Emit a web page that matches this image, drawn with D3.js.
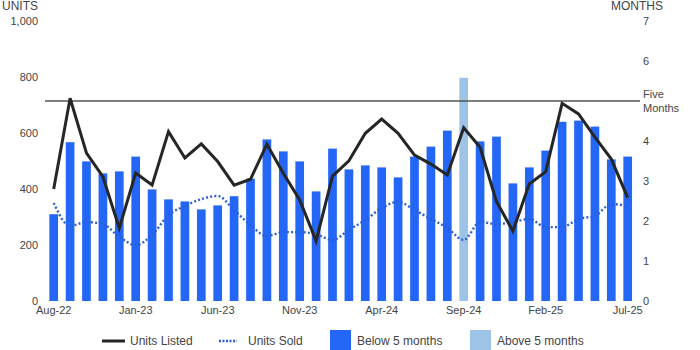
<!DOCTYPE html>
<html>
<head>
<meta charset="utf-8">
<script src="https://cdn.jsdelivr.net/npm/d3@7"></script>
<style>
  html, body { margin: 0; padding: 0; background: #fff; }
  svg { display: block; font-family: "Liberation Sans", Arial, sans-serif; }
</style>
</head>
<body>
<svg id="chart" width="700" height="350"></svg>
<script>
// Monthly housing market data, Aug-22 .. Jul-25
const months = [
  "Aug-22","Sep-22","Oct-22","Nov-22","Dec-22","Jan-23","Feb-23","Mar-23","Apr-23","May-23","Jun-23","Jul-23",
  "Aug-23","Sep-23","Oct-23","Nov-23","Dec-23","Jan-24","Feb-24","Mar-24","Apr-24","May-24","Jun-24","Jul-24",
  "Aug-24","Sep-24","Oct-24","Nov-24","Dec-24","Jan-25","Feb-25","Mar-25","Apr-25","May-25","Jun-25","Jul-25"
];

// Months of supply (right axis)
const monthsSupply = [
  2.17, 3.97, 3.49, 3.19, 3.24, 3.61, 2.79, 2.54, 2.49, 2.29, 2.39, 2.62,
  3.06, 4.04, 3.74, 3.49, 2.74, 3.81, 3.29, 3.39, 3.34, 3.09, 3.61, 3.86,
  4.26, 5.58, 3.99, 4.11, 2.94, 3.34, 3.76, 4.48, 4.51, 4.36, 3.54, 3.61
];

// Units listed (left axis)
const unitsListed = [
  400, 724, 528, 444, 260, 457, 414, 605, 511, 561, 498, 414,
  435, 560, 456, 361, 215, 446, 501, 599, 650, 599, 521, 489,
  450, 619, 549, 355, 250, 418, 462, 706, 668, 585, 507, 369
];

// Units sold (left axis)
const unitsSold = [
  350, 268, 282, 275, 229, 200, 236, 307, 339, 364, 375, 325,
  271, 232, 246, 246, 239, 218, 254, 289, 332, 354, 325, 293,
  261, 218, 282, 275, 282, 293, 264, 264, 293, 304, 346, 339
];

const leftTicks = [0, 200, 400, 600, 800, 1000];
const rightTicks = [0, 1, 2, 3, 4, 6, 7];
const xLabelMonths = ["Aug-22","Jan-23","Jun-23","Nov-23","Apr-24","Sep-24","Feb-25","Jul-25"];
const thresholdMonths = 5;

const colors = {
  below: "#2466f6",
  above: "#9dc3e6",
  listed: "#262626",
  sold: "#2b5fd6",
  text: "#444444",
  refLine: "#555555"
};

const svg = d3.select("#chart");

const x = d3.scaleBand()
  .domain(months)
  .range([45.5, 635.9])
  .paddingInner(0.47)
  .paddingOuter(0.235);

const yLeft = d3.scaleLinear().domain([0, 1000]).range([301, 21]);
const yRight = d3.scaleLinear().domain([0, 7]).range([301, 21]);

const cx = m => x(m) + x.bandwidth() / 2;

// Bars: months of supply, coloured by threshold
svg.append("g")
  .selectAll("rect")
  .data(months.map((m, i) => ({ m, v: monthsSupply[i] })))
  .join("rect")
  .attr("x", d => x(d.m))
  .attr("width", x.bandwidth())
  .attr("y", d => yRight(d.v))
  .attr("height", d => yRight(0) - yRight(d.v))
  .attr("fill", d => d.v > thresholdMonths ? colors.above : colors.below);

// Five-month reference line
svg.append("line")
  .attr("x1", 45).attr("x2", 640)
  .attr("y1", yRight(thresholdMonths)).attr("y2", yRight(thresholdMonths))
  .attr("stroke", colors.refLine)
  .attr("stroke-width", 1.3);

svg.append("text")
  .attr("x", 643).attr("y", yRight(thresholdMonths) - 3)
  .attr("font-size", 11).attr("fill", colors.text)
  .selectAll("tspan")
  .data(["Five", "Months"])
  .join("tspan")
  .attr("x", 643)
  .attr("dy", (d, i) => i === 0 ? 0 : 13.5)
  .text(d => d);

// Units sold: dotted smooth line
svg.append("path")
  .datum(unitsSold)
  .attr("fill", "none")
  .attr("stroke", colors.sold)
  .attr("stroke-width", 2.4)
  .attr("stroke-dasharray", "2,2.2")
  .attr("d", d3.line()
    .x((d, i) => cx(months[i]))
    .y(d => yLeft(d))
    .curve(d3.curveMonotoneX));

// Units listed: solid line
svg.append("path")
  .datum(unitsListed)
  .attr("fill", "none")
  .attr("stroke", colors.listed)
  .attr("stroke-width", 3)
  .attr("stroke-linejoin", "miter")
  .attr("d", d3.line()
    .x((d, i) => cx(months[i]))
    .y(d => yLeft(d)));

const tickFont = sel => sel.selectAll("text")
  .attr("font-size", 11)
  .attr("fill", colors.text)
  .attr("font-family", "Liberation Sans, Arial, sans-serif");

// Left axis
const leftAxis = svg.append("g")
  .attr("transform", "translate(38,0)")
  .call(d3.axisLeft(yLeft).tickValues(leftTicks).tickSize(0).tickPadding(0).tickFormat(d3.format(",")));
leftAxis.select(".domain").remove();
tickFont(leftAxis);

// Right axis
const rightAxis = svg.append("g")
  .attr("transform", "translate(643,0)")
  .call(d3.axisRight(yRight).tickValues(rightTicks).tickSize(0).tickPadding(0).tickFormat(d3.format("d")));
rightAxis.select(".domain").remove();
tickFont(rightAxis);

// Bottom axis
const bottomAxis = svg.append("g")
  .attr("transform", "translate(0,303)")
  .call(d3.axisBottom(x).tickValues(xLabelMonths).tickSize(0).tickPadding(3));
bottomAxis.select(".domain").remove();
tickFont(bottomAxis);

// Axis titles
svg.append("text").attr("x", 2).attr("y", 10).attr("font-size", 12).attr("fill", colors.text).text("UNITS");
svg.append("text").attr("x", 611).attr("y", 10).attr("font-size", 12).attr("fill", colors.text).text("MONTHS");

// Legend
const legend = svg.append("g").attr("font-size", 12).attr("fill", colors.text);
const ly = 341;

legend.append("line").attr("x1", 102).attr("x2", 125).attr("y1", ly).attr("y2", ly)
  .attr("stroke", colors.listed).attr("stroke-width", 3);
legend.append("text").attr("x", 130).attr("y", ly + 4).text("Units Listed");

legend.append("line").attr("x1", 219).attr("x2", 237).attr("y1", ly).attr("y2", ly)
  .attr("stroke", colors.sold).attr("stroke-width", 2.4).attr("stroke-dasharray", "2,1.5");
legend.append("text").attr("x", 248).attr("y", ly + 4).text("Units Sold");

legend.append("rect").attr("x", 330).attr("y", 330).attr("width", 21).attr("height", 20).attr("fill", colors.below);
legend.append("text").attr("x", 357).attr("y", ly + 4).text("Below 5 months");

legend.append("rect").attr("x", 470).attr("y", 330).attr("width", 21).attr("height", 20).attr("fill", colors.above);
legend.append("text").attr("x", 497).attr("y", ly + 4).text("Above 5 months");
</script>
</body>
</html>
